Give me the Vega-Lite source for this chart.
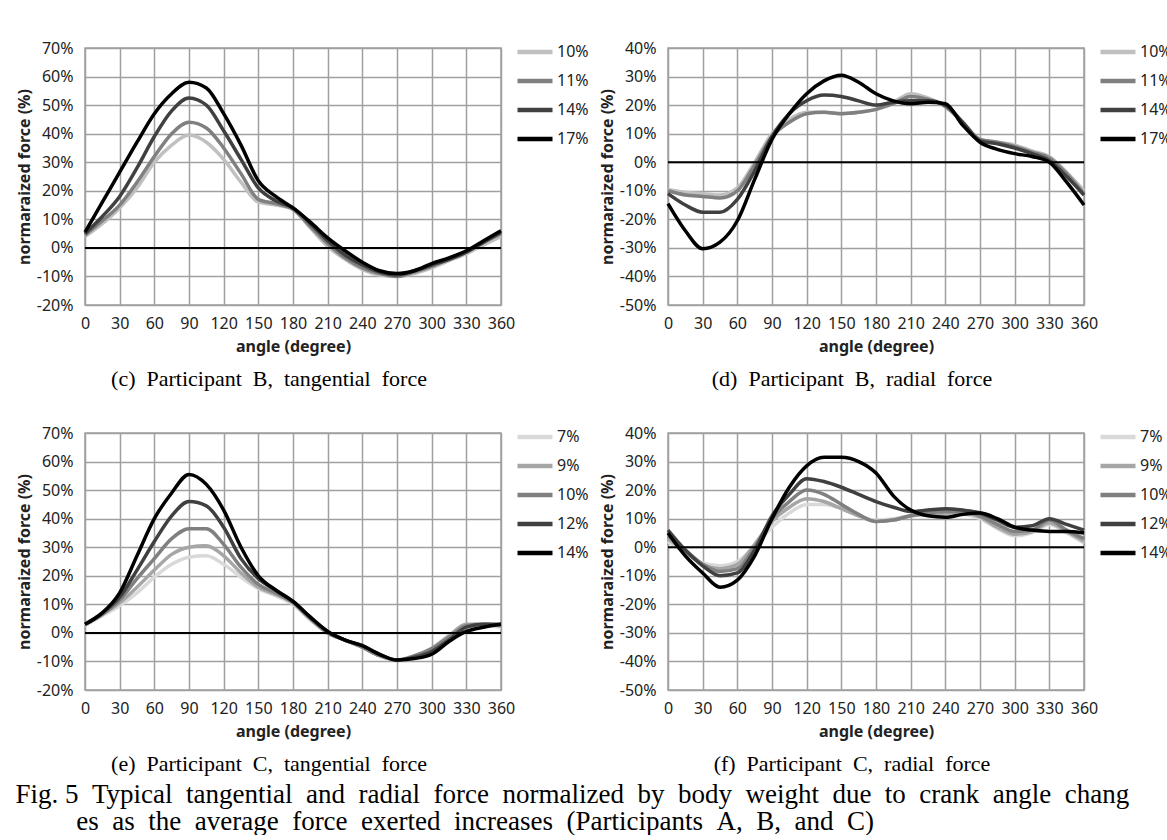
{
  "$schema": "https://vega.github.io/schema/vega-lite/v6.json",
  "background": "white",
  "padding": {"left": 15, "top": 31, "right": 0, "bottom": 0},
  "config": {
    "view": {"stroke": "#a0a0a0", "strokeWidth": 1.5},
    "axis": {"grid": true, "gridColor": "#a0a0a0", "gridWidth": 1.5, "domain": false, "ticks": false, "labelFont": "Noto Sans", "labelFontSize": 16, "labelColor": "#222222", "titleFont": "Noto Sans", "titleFontSize": 16, "titleFontWeight": "bold", "titleColor": "#222222", "labelOverlap": false, "labelFlush": false},
    "axisX": {"labelPadding": 10, "titlePadding": 7, "labelAngle": 0, "tickCount": 13},
    "axisY": {"labelPadding": 12, "titlePadding": 4, "tickCount": 10},
    "legend": {"orient": "none", "legendX": 430, "legendY": -16, "title": null, "symbolType": "stroke", "symbolSize": 1225, "symbolStrokeWidth": 4.5, "labelFont": "Noto Sans", "labelFontSize": 16, "labelColor": "#222222", "labelOffset": 2, "rowPadding": -6},
    "title": {"font": "Liberation Serif", "fontSize": 22, "fontWeight": "normal", "color": "#000000", "orient": "bottom", "offset": 15, "dx": -24}
  },
  "datasets": {
    "c": [
      {"angle":0,"series":"10%","force":4},{"angle":15,"series":"10%","force":8.5},{"angle":30,"series":"10%","force":14},{"angle":45,"series":"10%","force":21},{"angle":60,"series":"10%","force":30},{"angle":75,"series":"10%","force":36},{"angle":90,"series":"10%","force":39.5},{"angle":105,"series":"10%","force":37},{"angle":120,"series":"10%","force":31},{"angle":135,"series":"10%","force":23},{"angle":150,"series":"10%","force":16},{"angle":165,"series":"10%","force":15},{"angle":180,"series":"10%","force":13.5},{"angle":195,"series":"10%","force":7},{"angle":210,"series":"10%","force":0.5},{"angle":225,"series":"10%","force":-4},{"angle":240,"series":"10%","force":-7.5},{"angle":255,"series":"10%","force":-9.5},{"angle":270,"series":"10%","force":-10},{"angle":285,"series":"10%","force":-9},{"angle":300,"series":"10%","force":-7},{"angle":315,"series":"10%","force":-4.5},{"angle":330,"series":"10%","force":-2},{"angle":345,"series":"10%","force":1},{"angle":360,"series":"10%","force":4},
      {"angle":0,"series":"11%","force":4.5},{"angle":15,"series":"11%","force":9.5},{"angle":30,"series":"11%","force":15},{"angle":45,"series":"11%","force":23},{"angle":60,"series":"11%","force":32},{"angle":75,"series":"11%","force":40},{"angle":90,"series":"11%","force":44},{"angle":105,"series":"11%","force":42},{"angle":120,"series":"11%","force":35},{"angle":135,"series":"11%","force":26},{"angle":150,"series":"11%","force":17},{"angle":165,"series":"11%","force":15.5},{"angle":180,"series":"11%","force":13.5},{"angle":195,"series":"11%","force":7.5},{"angle":210,"series":"11%","force":1.5},{"angle":225,"series":"11%","force":-3.5},{"angle":240,"series":"11%","force":-7},{"angle":255,"series":"11%","force":-9},{"angle":270,"series":"11%","force":-10},{"angle":285,"series":"11%","force":-8.5},{"angle":300,"series":"11%","force":-6.5},{"angle":315,"series":"11%","force":-4},{"angle":330,"series":"11%","force":-1.5},{"angle":345,"series":"11%","force":2},{"angle":360,"series":"11%","force":5},
      {"angle":0,"series":"14%","force":5},{"angle":15,"series":"14%","force":11},{"angle":30,"series":"14%","force":18},{"angle":45,"series":"14%","force":28},{"angle":60,"series":"14%","force":39},{"angle":75,"series":"14%","force":48},{"angle":90,"series":"14%","force":52.5},{"angle":105,"series":"14%","force":50},{"angle":120,"series":"14%","force":41},{"angle":135,"series":"14%","force":31},{"angle":150,"series":"14%","force":21},{"angle":165,"series":"14%","force":16.5},{"angle":180,"series":"14%","force":14},{"angle":195,"series":"14%","force":8.5},{"angle":210,"series":"14%","force":2.5},{"angle":225,"series":"14%","force":-2.5},{"angle":240,"series":"14%","force":-6},{"angle":255,"series":"14%","force":-8.5},{"angle":270,"series":"14%","force":-9.5},{"angle":285,"series":"14%","force":-8},{"angle":300,"series":"14%","force":-6},{"angle":315,"series":"14%","force":-4},{"angle":330,"series":"14%","force":-1.5},{"angle":345,"series":"14%","force":2},{"angle":360,"series":"14%","force":5.5},
      {"angle":0,"series":"17%","force":5.5},{"angle":15,"series":"17%","force":16},{"angle":30,"series":"17%","force":26.5},{"angle":45,"series":"17%","force":37},{"angle":60,"series":"17%","force":47},{"angle":75,"series":"17%","force":54},{"angle":90,"series":"17%","force":58},{"angle":105,"series":"17%","force":56},{"angle":120,"series":"17%","force":47},{"angle":135,"series":"17%","force":36},{"angle":150,"series":"17%","force":23.5},{"angle":165,"series":"17%","force":18},{"angle":180,"series":"17%","force":14},{"angle":195,"series":"17%","force":9},{"angle":210,"series":"17%","force":3.5},{"angle":225,"series":"17%","force":-1},{"angle":240,"series":"17%","force":-5},{"angle":255,"series":"17%","force":-8},{"angle":270,"series":"17%","force":-9},{"angle":285,"series":"17%","force":-8},{"angle":300,"series":"17%","force":-5.5},{"angle":315,"series":"17%","force":-3.5},{"angle":330,"series":"17%","force":-1},{"angle":345,"series":"17%","force":2.5},{"angle":360,"series":"17%","force":6}
    ],
    "d": [
      {"angle":0,"series":"10%","force":-9.5},{"angle":15,"series":"10%","force":-10.5},{"angle":30,"series":"10%","force":-11},{"angle":45,"series":"10%","force":-11.5},{"angle":60,"series":"10%","force":-9},{"angle":75,"series":"10%","force":0},{"angle":90,"series":"10%","force":10},{"angle":105,"series":"10%","force":15},{"angle":120,"series":"10%","force":17.5},{"angle":135,"series":"10%","force":17.5},{"angle":150,"series":"10%","force":17},{"angle":165,"series":"10%","force":17.5},{"angle":180,"series":"10%","force":18.5},{"angle":195,"series":"10%","force":21},{"angle":210,"series":"10%","force":24},{"angle":225,"series":"10%","force":22.5},{"angle":240,"series":"10%","force":19.5},{"angle":255,"series":"10%","force":14},{"angle":270,"series":"10%","force":8},{"angle":285,"series":"10%","force":7},{"angle":300,"series":"10%","force":6},{"angle":315,"series":"10%","force":4},{"angle":330,"series":"10%","force":2},{"angle":345,"series":"10%","force":-3.5},{"angle":360,"series":"10%","force":-10},
      {"angle":0,"series":"11%","force":-10},{"angle":15,"series":"11%","force":-11.5},{"angle":30,"series":"11%","force":-12},{"angle":45,"series":"11%","force":-12.5},{"angle":60,"series":"11%","force":-10},{"angle":75,"series":"11%","force":-1},{"angle":90,"series":"11%","force":9},{"angle":105,"series":"11%","force":14},{"angle":120,"series":"11%","force":17},{"angle":135,"series":"11%","force":17.5},{"angle":150,"series":"11%","force":17},{"angle":165,"series":"11%","force":17.5},{"angle":180,"series":"11%","force":18.5},{"angle":195,"series":"11%","force":20.5},{"angle":210,"series":"11%","force":23},{"angle":225,"series":"11%","force":22},{"angle":240,"series":"11%","force":19.5},{"angle":255,"series":"11%","force":14},{"angle":270,"series":"11%","force":8},{"angle":285,"series":"11%","force":7},{"angle":300,"series":"11%","force":5.5},{"angle":315,"series":"11%","force":3.5},{"angle":330,"series":"11%","force":1.5},{"angle":345,"series":"11%","force":-4},{"angle":360,"series":"11%","force":-11},
      {"angle":0,"series":"14%","force":-11},{"angle":15,"series":"14%","force":-15},{"angle":30,"series":"14%","force":-17.5},{"angle":45,"series":"14%","force":-17.5},{"angle":60,"series":"14%","force":-13},{"angle":75,"series":"14%","force":-3},{"angle":90,"series":"14%","force":9},{"angle":105,"series":"14%","force":17},{"angle":120,"series":"14%","force":21.5},{"angle":135,"series":"14%","force":23.5},{"angle":150,"series":"14%","force":23},{"angle":165,"series":"14%","force":21.5},{"angle":180,"series":"14%","force":20},{"angle":195,"series":"14%","force":21},{"angle":210,"series":"14%","force":21.5},{"angle":225,"series":"14%","force":21.5},{"angle":240,"series":"14%","force":20},{"angle":255,"series":"14%","force":14},{"angle":270,"series":"14%","force":7.5},{"angle":285,"series":"14%","force":6.5},{"angle":300,"series":"14%","force":5},{"angle":315,"series":"14%","force":3},{"angle":330,"series":"14%","force":0.5},{"angle":345,"series":"14%","force":-5},{"angle":360,"series":"14%","force":-11.5},
      {"angle":0,"series":"17%","force":-14.5},{"angle":15,"series":"17%","force":-24},{"angle":30,"series":"17%","force":-30.3},{"angle":45,"series":"17%","force":-28},{"angle":60,"series":"17%","force":-20.5},{"angle":75,"series":"17%","force":-6},{"angle":90,"series":"17%","force":8},{"angle":105,"series":"17%","force":17},{"angle":120,"series":"17%","force":24},{"angle":135,"series":"17%","force":28.5},{"angle":150,"series":"17%","force":30.5},{"angle":165,"series":"17%","force":28},{"angle":180,"series":"17%","force":24},{"angle":195,"series":"17%","force":21.5},{"angle":210,"series":"17%","force":20.5},{"angle":225,"series":"17%","force":21},{"angle":240,"series":"17%","force":20.5},{"angle":255,"series":"17%","force":13},{"angle":270,"series":"17%","force":7},{"angle":285,"series":"17%","force":4.5},{"angle":300,"series":"17%","force":3},{"angle":315,"series":"17%","force":2},{"angle":330,"series":"17%","force":0},{"angle":345,"series":"17%","force":-7},{"angle":360,"series":"17%","force":-15}
    ],
    "e": [
      {"angle":0,"series":"7%","force":2.5},{"angle":15,"series":"7%","force":6},{"angle":30,"series":"7%","force":9.5},{"angle":45,"series":"7%","force":14},{"angle":60,"series":"7%","force":19.5},{"angle":75,"series":"7%","force":24},{"angle":90,"series":"7%","force":26.5},{"angle":105,"series":"7%","force":27},{"angle":120,"series":"7%","force":24},{"angle":135,"series":"7%","force":19.5},{"angle":150,"series":"7%","force":15.5},{"angle":165,"series":"7%","force":13},{"angle":180,"series":"7%","force":10},{"angle":195,"series":"7%","force":4.5},{"angle":210,"series":"7%","force":0},{"angle":225,"series":"7%","force":-2.5},{"angle":240,"series":"7%","force":-5},{"angle":255,"series":"7%","force":-8},{"angle":270,"series":"7%","force":-9.5},{"angle":285,"series":"7%","force":-8.5},{"angle":300,"series":"7%","force":-6},{"angle":315,"series":"7%","force":-1.5},{"angle":330,"series":"7%","force":2},{"angle":345,"series":"7%","force":2.5},{"angle":360,"series":"7%","force":2},
      {"angle":0,"series":"9%","force":3},{"angle":15,"series":"9%","force":6.5},{"angle":30,"series":"9%","force":10.5},{"angle":45,"series":"9%","force":16},{"angle":60,"series":"9%","force":22},{"angle":75,"series":"9%","force":27.5},{"angle":90,"series":"9%","force":30},{"angle":105,"series":"9%","force":30.5},{"angle":120,"series":"9%","force":27},{"angle":135,"series":"9%","force":21},{"angle":150,"series":"9%","force":16},{"angle":165,"series":"9%","force":13.5},{"angle":180,"series":"9%","force":10.5},{"angle":195,"series":"9%","force":5},{"angle":210,"series":"9%","force":0},{"angle":225,"series":"9%","force":-2.5},{"angle":240,"series":"9%","force":-5},{"angle":255,"series":"9%","force":-8},{"angle":270,"series":"9%","force":-9.5},{"angle":285,"series":"9%","force":-8.5},{"angle":300,"series":"9%","force":-5.5},{"angle":315,"series":"9%","force":-1},{"angle":330,"series":"9%","force":3},{"angle":345,"series":"9%","force":3},{"angle":360,"series":"9%","force":2.5},
      {"angle":0,"series":"10%","force":3},{"angle":15,"series":"10%","force":6.5},{"angle":30,"series":"10%","force":11.5},{"angle":45,"series":"10%","force":19},{"angle":60,"series":"10%","force":26},{"angle":75,"series":"10%","force":33},{"angle":90,"series":"10%","force":36.5},{"angle":105,"series":"10%","force":36.5},{"angle":120,"series":"10%","force":31},{"angle":135,"series":"10%","force":23},{"angle":150,"series":"10%","force":17},{"angle":165,"series":"10%","force":14},{"angle":180,"series":"10%","force":10.5},{"angle":195,"series":"10%","force":5},{"angle":210,"series":"10%","force":0},{"angle":225,"series":"10%","force":-2.5},{"angle":240,"series":"10%","force":-5},{"angle":255,"series":"10%","force":-8},{"angle":270,"series":"10%","force":-9.5},{"angle":285,"series":"10%","force":-8},{"angle":300,"series":"10%","force":-5.5},{"angle":315,"series":"10%","force":-1.5},{"angle":330,"series":"10%","force":2.5},{"angle":345,"series":"10%","force":3},{"angle":360,"series":"10%","force":2.5},
      {"angle":0,"series":"12%","force":3},{"angle":15,"series":"12%","force":7},{"angle":30,"series":"12%","force":12.5},{"angle":45,"series":"12%","force":22},{"angle":60,"series":"12%","force":32},{"angle":75,"series":"12%","force":41},{"angle":90,"series":"12%","force":46},{"angle":105,"series":"12%","force":44.5},{"angle":120,"series":"12%","force":37},{"angle":135,"series":"12%","force":26},{"angle":150,"series":"12%","force":19},{"angle":165,"series":"12%","force":15},{"angle":180,"series":"12%","force":11},{"angle":195,"series":"12%","force":5.5},{"angle":210,"series":"12%","force":0.5},{"angle":225,"series":"12%","force":-2.5},{"angle":240,"series":"12%","force":-4.5},{"angle":255,"series":"12%","force":-7.5},{"angle":270,"series":"12%","force":-9.5},{"angle":285,"series":"12%","force":-8.5},{"angle":300,"series":"12%","force":-6.5},{"angle":315,"series":"12%","force":-2.5},{"angle":330,"series":"12%","force":2},{"angle":345,"series":"12%","force":3},{"angle":360,"series":"12%","force":3},
      {"angle":0,"series":"14%","force":3},{"angle":15,"series":"14%","force":7},{"angle":30,"series":"14%","force":14},{"angle":45,"series":"14%","force":27},{"angle":60,"series":"14%","force":40},{"angle":75,"series":"14%","force":49},{"angle":90,"series":"14%","force":55.5},{"angle":105,"series":"14%","force":52},{"angle":120,"series":"14%","force":43},{"angle":135,"series":"14%","force":30},{"angle":150,"series":"14%","force":20},{"angle":165,"series":"14%","force":15},{"angle":180,"series":"14%","force":11},{"angle":195,"series":"14%","force":5.5},{"angle":210,"series":"14%","force":0.5},{"angle":225,"series":"14%","force":-2.5},{"angle":240,"series":"14%","force":-4.5},{"angle":255,"series":"14%","force":-7.5},{"angle":270,"series":"14%","force":-9.5},{"angle":285,"series":"14%","force":-9},{"angle":300,"series":"14%","force":-7.5},{"angle":315,"series":"14%","force":-3},{"angle":330,"series":"14%","force":0.5},{"angle":345,"series":"14%","force":2},{"angle":360,"series":"14%","force":3}
    ],
    "f": [
      {"angle":0,"series":"7%","force":2},{"angle":15,"series":"7%","force":-2},{"angle":30,"series":"7%","force":-5.5},{"angle":45,"series":"7%","force":-6.5},{"angle":60,"series":"7%","force":-5},{"angle":75,"series":"7%","force":0.5},{"angle":90,"series":"7%","force":7},{"angle":105,"series":"7%","force":12},{"angle":120,"series":"7%","force":15},{"angle":135,"series":"7%","force":15},{"angle":150,"series":"7%","force":13.5},{"angle":165,"series":"7%","force":11},{"angle":180,"series":"7%","force":9.5},{"angle":195,"series":"7%","force":10},{"angle":210,"series":"7%","force":11},{"angle":225,"series":"7%","force":11.5},{"angle":240,"series":"7%","force":11.5},{"angle":255,"series":"7%","force":11.5},{"angle":270,"series":"7%","force":10},{"angle":285,"series":"7%","force":6.5},{"angle":300,"series":"7%","force":4},{"angle":315,"series":"7%","force":5},{"angle":330,"series":"7%","force":8},{"angle":345,"series":"7%","force":5},{"angle":360,"series":"7%","force":1.5},
      {"angle":0,"series":"9%","force":3},{"angle":15,"series":"9%","force":-1.5},{"angle":30,"series":"9%","force":-6},{"angle":45,"series":"9%","force":-7.5},{"angle":60,"series":"9%","force":-6},{"angle":75,"series":"9%","force":1},{"angle":90,"series":"9%","force":9},{"angle":105,"series":"9%","force":14},{"angle":120,"series":"9%","force":17},{"angle":135,"series":"9%","force":16},{"angle":150,"series":"9%","force":13.5},{"angle":165,"series":"9%","force":11},{"angle":180,"series":"9%","force":9},{"angle":195,"series":"9%","force":9.5},{"angle":210,"series":"9%","force":11},{"angle":225,"series":"9%","force":11.5},{"angle":240,"series":"9%","force":12},{"angle":255,"series":"9%","force":12},{"angle":270,"series":"9%","force":10.5},{"angle":285,"series":"9%","force":7},{"angle":300,"series":"9%","force":4.5},{"angle":315,"series":"9%","force":5.5},{"angle":330,"series":"9%","force":8.5},{"angle":345,"series":"9%","force":5.5},{"angle":360,"series":"9%","force":2},
      {"angle":0,"series":"10%","force":4},{"angle":15,"series":"10%","force":-1},{"angle":30,"series":"10%","force":-6},{"angle":45,"series":"10%","force":-8.5},{"angle":60,"series":"10%","force":-7.5},{"angle":75,"series":"10%","force":0},{"angle":90,"series":"10%","force":10},{"angle":105,"series":"10%","force":16},{"angle":120,"series":"10%","force":20},{"angle":135,"series":"10%","force":18.5},{"angle":150,"series":"10%","force":15},{"angle":165,"series":"10%","force":11.5},{"angle":180,"series":"10%","force":9},{"angle":195,"series":"10%","force":9.5},{"angle":210,"series":"10%","force":11},{"angle":225,"series":"10%","force":12},{"angle":240,"series":"10%","force":12.5},{"angle":255,"series":"10%","force":12.5},{"angle":270,"series":"10%","force":11},{"angle":285,"series":"10%","force":8},{"angle":300,"series":"10%","force":5.5},{"angle":315,"series":"10%","force":6},{"angle":330,"series":"10%","force":9.5},{"angle":345,"series":"10%","force":6},{"angle":360,"series":"10%","force":3},
      {"angle":0,"series":"12%","force":6},{"angle":15,"series":"12%","force":-1},{"angle":30,"series":"12%","force":-6.5},{"angle":45,"series":"12%","force":-10},{"angle":60,"series":"12%","force":-9},{"angle":75,"series":"12%","force":-1},{"angle":90,"series":"12%","force":11},{"angle":105,"series":"12%","force":18.5},{"angle":120,"series":"12%","force":24},{"angle":135,"series":"12%","force":23},{"angle":150,"series":"12%","force":21},{"angle":165,"series":"12%","force":18.5},{"angle":180,"series":"12%","force":16},{"angle":195,"series":"12%","force":14},{"angle":210,"series":"12%","force":12.5},{"angle":225,"series":"12%","force":13},{"angle":240,"series":"12%","force":13.5},{"angle":255,"series":"12%","force":13},{"angle":270,"series":"12%","force":12},{"angle":285,"series":"12%","force":9.5},{"angle":300,"series":"12%","force":7},{"angle":315,"series":"12%","force":7.5},{"angle":330,"series":"12%","force":10},{"angle":345,"series":"12%","force":8},{"angle":360,"series":"12%","force":6},
      {"angle":0,"series":"14%","force":5},{"angle":15,"series":"14%","force":-3},{"angle":30,"series":"14%","force":-9},{"angle":45,"series":"14%","force":-14},{"angle":60,"series":"14%","force":-11.5},{"angle":75,"series":"14%","force":-3},{"angle":90,"series":"14%","force":10},{"angle":105,"series":"14%","force":21},{"angle":120,"series":"14%","force":28.5},{"angle":135,"series":"14%","force":31.5},{"angle":150,"series":"14%","force":31.5},{"angle":165,"series":"14%","force":30},{"angle":180,"series":"14%","force":26},{"angle":195,"series":"14%","force":18},{"angle":210,"series":"14%","force":13},{"angle":225,"series":"14%","force":11},{"angle":240,"series":"14%","force":10.5},{"angle":255,"series":"14%","force":11.5},{"angle":270,"series":"14%","force":12},{"angle":285,"series":"14%","force":10},{"angle":300,"series":"14%","force":7},{"angle":315,"series":"14%","force":6},{"angle":330,"series":"14%","force":5.5},{"angle":345,"series":"14%","force":5.5},{"angle":360,"series":"14%","force":5}
    ]
  },
  "title": {
    "text": ["Fig. 5 \u00a0Typical \u00a0tangential \u00a0and \u00a0radial \u00a0force \u00a0normalized \u00a0by \u00a0body \u00a0weight \u00a0due \u00a0to \u00a0crank \u00a0angle \u00a0chang", "\u200b\u00a0\u00a0\u00a0\u00a0\u00a0\u00a0\u00a0\u00a0\u00a0es \u00a0as \u00a0the \u00a0average \u00a0force \u00a0exerted \u00a0increases \u00a0(Participants \u00a0A, \u00a0B, \u00a0and \u00a0C)"],
    "orient": "bottom", "anchor": "start", "font": "Liberation Serif", "fontSize": 27, "fontWeight": "normal", "lineHeight": 27, "offset": 6, "dx": 0, "color": "#000000"
  },
  "spacing": 25,
  "resolve": {"scale": {"color": "independent"}, "legend": {"color": "independent"}},
  "vconcat": [
    {
      "spacing": 8,
      "resolve": {"scale": {"color": "independent"}, "legend": {"color": "independent"}},
      "hconcat": [
        {
          "width": 416, "height": 257,
          "title": {"text": "(c) \u00a0Participant \u00a0B, \u00a0tangential \u00a0force"},
          "layer": [
            {
              "data": {"name": "c"},
              "mark": {"type": "line", "strokeWidth": 3.5, "interpolate": "monotone"},
              "encoding": {
                "x": {"field": "angle", "type": "quantitative", "scale": {"domain": [0, 360], "nice": false}, "axis": {"values": [0,30,60,90,120,150,180,210,240,270,300,330,360], "tickCount": 13, "title": "angle (degree)", "labelOverlap": false, "labelFlush": false}},
                "y": {"field": "force", "type": "quantitative", "scale": {"domain": [-20, 70], "nice": false}, "axis": {"values": [-20,-10,0,10,20,30,40,50,60,70], "tickCount": 10, "labelExpr": "datum.value + '%'", "title": "normaraized force (%)", "labelOverlap": false, "labelFlush": false}},
                "color": {"field": "series", "type": "nominal", "scale": {"domain": ["10%","11%","14%","17%"], "range": ["#c0c0c0","#808080","#404040","#000000"]}}
              }
            },
            {"data": {"values": [{}]}, "mark": {"type": "rule", "color": "#000000", "strokeWidth": 2}, "encoding": {"y": {"datum": 0}}}
          ]
        },
        {
          "width": 416, "height": 257,
          "title": {"text": "(d) \u00a0Participant \u00a0B, \u00a0radial \u00a0force"},
          "layer": [
            {
              "data": {"name": "d"},
              "mark": {"type": "line", "strokeWidth": 3.5, "interpolate": "monotone"},
              "encoding": {
                "x": {"field": "angle", "type": "quantitative", "scale": {"domain": [0, 360], "nice": false}, "axis": {"values": [0,30,60,90,120,150,180,210,240,270,300,330,360], "tickCount": 13, "title": "angle (degree)", "labelOverlap": false, "labelFlush": false}},
                "y": {"field": "force", "type": "quantitative", "scale": {"domain": [-50, 40], "nice": false}, "axis": {"values": [-50,-40,-30,-20,-10,0,10,20,30,40], "tickCount": 10, "labelExpr": "datum.value + '%'", "title": "normaraized force (%)", "labelOverlap": false, "labelFlush": false}},
                "color": {"field": "series", "type": "nominal", "scale": {"domain": ["10%","11%","14%","17%"], "range": ["#c0c0c0","#808080","#404040","#000000"]}}
              }
            },
            {"data": {"values": [{}]}, "mark": {"type": "rule", "color": "#000000", "strokeWidth": 2}, "encoding": {"y": {"datum": 0}}}
          ]
        }
      ]
    },
    {
      "spacing": 8,
      "resolve": {"scale": {"color": "independent"}, "legend": {"color": "independent"}},
      "hconcat": [
        {
          "width": 416, "height": 257,
          "title": {"text": "(e) \u00a0Participant \u00a0C, \u00a0tangential \u00a0force"},
          "layer": [
            {
              "data": {"name": "e"},
              "mark": {"type": "line", "strokeWidth": 3.5, "interpolate": "monotone"},
              "encoding": {
                "x": {"field": "angle", "type": "quantitative", "scale": {"domain": [0, 360], "nice": false}, "axis": {"values": [0,30,60,90,120,150,180,210,240,270,300,330,360], "tickCount": 13, "title": "angle (degree)", "labelOverlap": false, "labelFlush": false}},
                "y": {"field": "force", "type": "quantitative", "scale": {"domain": [-20, 70], "nice": false}, "axis": {"values": [-20,-10,0,10,20,30,40,50,60,70], "tickCount": 10, "labelExpr": "datum.value + '%'", "title": "normaraized force (%)", "labelOverlap": false, "labelFlush": false}},
                "color": {"field": "series", "type": "nominal", "scale": {"domain": ["7%","9%","10%","12%","14%"], "range": ["#d9d9d9","#a6a6a6","#808080","#404040","#000000"]}}
              }
            },
            {"data": {"values": [{}]}, "mark": {"type": "rule", "color": "#000000", "strokeWidth": 2}, "encoding": {"y": {"datum": 0}}}
          ]
        },
        {
          "width": 416, "height": 257,
          "title": {"text": "(f) \u00a0Participant \u00a0C, \u00a0radial \u00a0force"},
          "layer": [
            {
              "data": {"name": "f"},
              "mark": {"type": "line", "strokeWidth": 3.5, "interpolate": "monotone"},
              "encoding": {
                "x": {"field": "angle", "type": "quantitative", "scale": {"domain": [0, 360], "nice": false}, "axis": {"values": [0,30,60,90,120,150,180,210,240,270,300,330,360], "tickCount": 13, "title": "angle (degree)", "labelOverlap": false, "labelFlush": false}},
                "y": {"field": "force", "type": "quantitative", "scale": {"domain": [-50, 40], "nice": false}, "axis": {"values": [-50,-40,-30,-20,-10,0,10,20,30,40], "tickCount": 10, "labelExpr": "datum.value + '%'", "title": "normaraized force (%)", "labelOverlap": false, "labelFlush": false}},
                "color": {"field": "series", "type": "nominal", "scale": {"domain": ["7%","9%","10%","12%","14%"], "range": ["#d9d9d9","#a6a6a6","#808080","#404040","#000000"]}}
              }
            },
            {"data": {"values": [{}]}, "mark": {"type": "rule", "color": "#000000", "strokeWidth": 2}, "encoding": {"y": {"datum": 0}}}
          ]
        }
      ]
    }
  ]
}
